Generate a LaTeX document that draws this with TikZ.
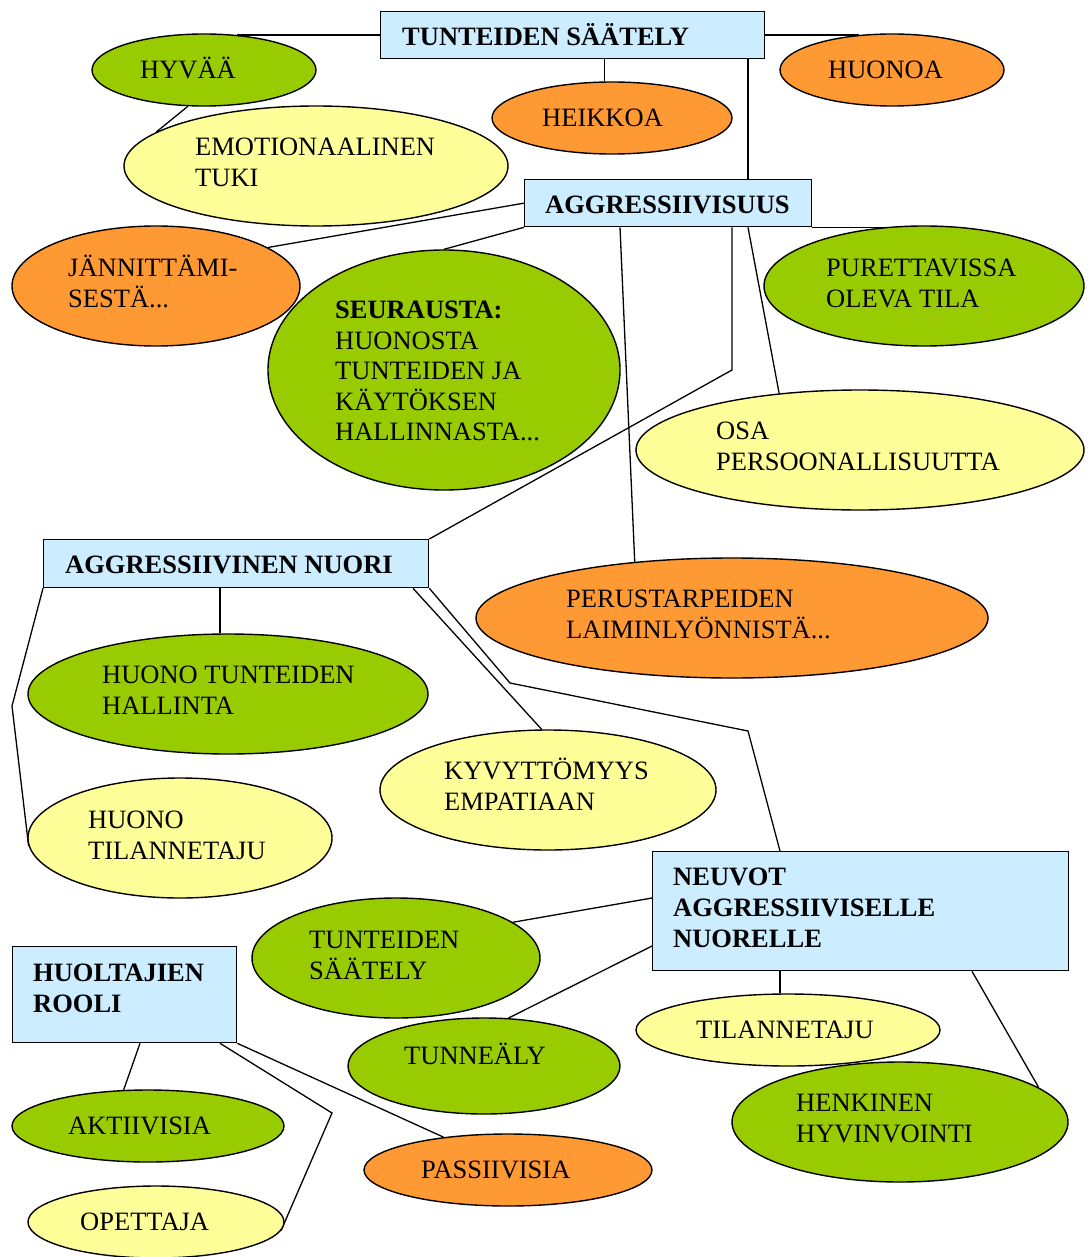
\documentclass[tikz,border=0pt]{standalone}
\usepackage{fontspec}
\setmainfont{Liberation Serif}
\usetikzlibrary{shapes.geometric,calc}
\definecolor{boxblue}{HTML}{CCECFF}
\definecolor{leafgreen}{HTML}{99CC00}
\definecolor{warmorange}{HTML}{FF9933}
\definecolor{paleyellow}{HTML}{FFFF99}
\pgfdeclarelayer{bg}
\pgfsetlayers{bg,main}
\begin{document}
\begin{tikzpicture}[x=1pt,y=-1pt,
  topic/.style={draw, line width=1.3pt, fill=boxblue, rectangle, anchor=north west, inner sep=0pt},
  bubble/.style={draw, line width=1.4pt, ellipse, inner sep=0pt},
  good/.style={bubble, fill=leafgreen},
  bad/.style={bubble, fill=warmorange},
  mild/.style={bubble, fill=paleyellow},
  % multi-line labels sit on the baseline of their last line
  lbl/.style={anchor=base west, inner sep=0pt, align=left, font=\fontsize{26.5}{31}\selectfont},
  head/.style={lbl, font=\fontsize{26.5}{31}\selectfont\bfseries},
  link/.style={line width=1.3pt}
]
\useasboundingbox (0,0) rectangle (1087,1257);

% heading boxes
\node[topic, minimum width=384pt, minimum height=47pt]  (ts)    at (380,11)  {};
\node[topic, minimum width=287pt, minimum height=47pt]  (agg)   at (524,179) {};
\node[topic, minimum width=385pt, minimum height=48pt]  (nuori) at (43,539)  {};
\node[topic, minimum width=416pt, minimum height=119pt] (neu)   at (652,851) {};
\node[topic, minimum width=224pt, minimum height=96pt]  (huol)  at (12,946)  {};

% bubbles
\node[good, minimum width=224pt, minimum height=72pt]  (hyv)  at (204,70)   {};
\node[bad,  minimum width=240pt, minimum height=72pt]  (heik) at (612,118)  {};
\node[bad,  minimum width=224pt, minimum height=72pt]  (huo)  at (892,70)   {};
\node[mild, minimum width=384pt, minimum height=120pt] (emo)  at (316,166)  {};
\node[bad,  minimum width=288pt, minimum height=120pt] (jan)  at (156,286)  {};
\node[good, minimum width=352pt, minimum height=240pt] (seur) at (444,370)  {};
\node[good, minimum width=320pt, minimum height=120pt] (pur)  at (924,286)  {};
\node[mild, minimum width=448pt, minimum height=120pt] (osa)  at (860,450)  {};
\node[bad,  minimum width=512pt, minimum height=120pt] (peru) at (732,618)  {};
\node[good, minimum width=400pt, minimum height=120pt] (htun) at (228,694)  {};
\node[mild, minimum width=336pt, minimum height=120pt] (kyv)  at (548,790)  {};
\node[mild, minimum width=304pt, minimum height=120pt] (hti)  at (180,838)  {};
\node[good, minimum width=288pt, minimum height=120pt] (tsa)  at (396,958)  {};
\node[good, minimum width=272pt, minimum height=96pt]  (tun)  at (484,1066) {};
\node[mild, minimum width=304pt, minimum height=72pt]  (til)  at (788,1030) {};
\node[good, minimum width=336pt, minimum height=120pt] (henk) at (900,1122) {};
\node[good, minimum width=272pt, minimum height=72pt]  (akt)  at (148,1126) {};
\node[bad,  minimum width=288pt, minimum height=72pt]  (pas)  at (508,1170) {};
\node[mild, minimum width=256pt, minimum height=72pt]  (ope)  at (156,1222) {};

% texts
\node[head] (ts-t)    at (402,45.5)  {TUNTEIDEN SÄÄTELY};
\node[head] (agg-t)   at (545,213.3) {AGGRESSIIVISUUS};
\node[head] (nuori-t) at (65,573.3)  {AGGRESSIIVINEN NUORI};
\node[head] (neu-t)   at (673,947.5) {NEUVOT\\AGGRESSIIVISELLE\\NUORELLE};
\node[head] (huol-t)  at (33,1012.5) {HUOLTAJIEN\\ROOLI};

\node[lbl] (hyv-t)  at (140,78.5)  {HYVÄÄ};
\node[lbl] (heik-t) at (542,126.5) {HEIKKOA};
\node[lbl] (huo-t)  at (828,78.3)  {HUONOA};
\node[lbl] (emo-t)  at (195,186.5) {EMOTIONAALINEN\\TUKI};
\node[lbl] (jan-t)  at (68,307)    {JÄNNITTÄMI-\\SESTÄ...};
\node[lbl, font=\fontsize{26.5}{30.5}\selectfont] (seur-t) at (335,440.5)
  {\textbf{SEURAUSTA:}\\HUONOSTA\\TUNTEIDEN JA\\KÄYTÖKSEN\\HALLINNASTA...};
\node[lbl] (pur-t)  at (826,307)   {PURETTAVISSA\\OLEVA TILA};
\node[lbl] (osa-t)  at (716,470.5) {OSA\\PERSOONALLISUUTTA};
\node[lbl] (peru-t) at (566,638)   {PERUSTARPEIDEN\\LAIMINLYÖNNISTÄ...};
\node[lbl] (htun-t) at (102,714.5) {HUONO TUNTEIDEN\\HALLINTA};
\node[lbl] (kyv-t)  at (444,810.5) {KYVYTTÖMYYS\\EMPATIAAN};
\node[lbl] (hti-t)  at (88,859.5)  {HUONO\\TILANNETAJU};
\node[lbl] (tsa-t)  at (309,979)   {TUNTEIDEN\\SÄÄTELY};
\node[lbl] (til-t)  at (696,1038.5) {TILANNETAJU};
\node[lbl] (tun-t)  at (404,1064.5) {TUNNEÄLY};
\node[lbl] (henk-t) at (796,1142.5) {HENKINEN\\HYVINVOINTI};
\node[lbl] (akt-t)  at (68,1134.5)  {AKTIIVISIA};
\node[lbl] (pas-t)  at (421,1178.5) {PASSIIVISIA};
\node[lbl] (ope-t)  at (80,1230.5)  {OPETTAJA};

% bend points of the connectors
\coordinate (kneeA) at (732,370);
\coordinate (kneeB) at (12,706);
\coordinate (kneeC) at (510,683);
\coordinate (kneeD) at (748,731);
\coordinate (kneeE) at (332,1113);

% connectors, kept behind the shapes
\begin{pgfonlayer}{bg}
\draw[link] (ts.west) -- (ts.west -| hyv.47);
\draw[link] (ts.east) -- (ts.east -| huo.133);
\draw[link] (heik.102 |- ts.south) -- (heik.102);
\draw[link] ($(ts.south west)+(368,0)$) -- ($(agg.north west)+(224,0)$);
\draw[link] (hyv.246) -- (emo.168);
\draw[link] (agg.west) -- (jan.19);
\draw[link] (agg.south west) -- (seur.north);
\draw[link] (agg.south east) -- (agg.south east -| pur.103);
\draw[link] ($(agg.south west)+(224,0)$) -- (osa.145);
\draw[link] ($(agg.south west)+(96,0)$) -- (peru.150);
\draw[link] ($(agg.south west)+(208,0)$) -- (kneeA) -- (nuori.north east);
\draw[link] ($(nuori.south west)+(177,0)$) coordinate (dropL) -- (dropL |- htun.north);
\draw[link] (nuori.south west) -- (kneeB) -- (hti.183);
\draw[link] ($(nuori.south west)+(370,0)$) -- (kyv.96);
\draw[link] (nuori.south east) -- (kneeC) -- (kneeD) -- ($(neu.north west)+(128,0)$);
\draw[link] ($(neu.north west)+(0,47)$) -- (tsa.17);
\draw[link] ($(neu.north west)+(0,95)$) -- (tun.63);
\draw[link] ($(neu.south west)+(128,0)$) coordinate (dropR) -- (dropR |- til.north);
\draw[link] ($(neu.south west)+(320,0)$) -- (henk.14);
\draw[link] ($(huol.south west)+(128,0)$) -- (akt.124);
\draw[link] ($(huol.south west)+(208,0)$) -- (kneeE) -- (ope.356);
\draw[link] (huol.south east) -- (pas.153);
\end{pgfonlayer}
\end{tikzpicture}
\end{document}
